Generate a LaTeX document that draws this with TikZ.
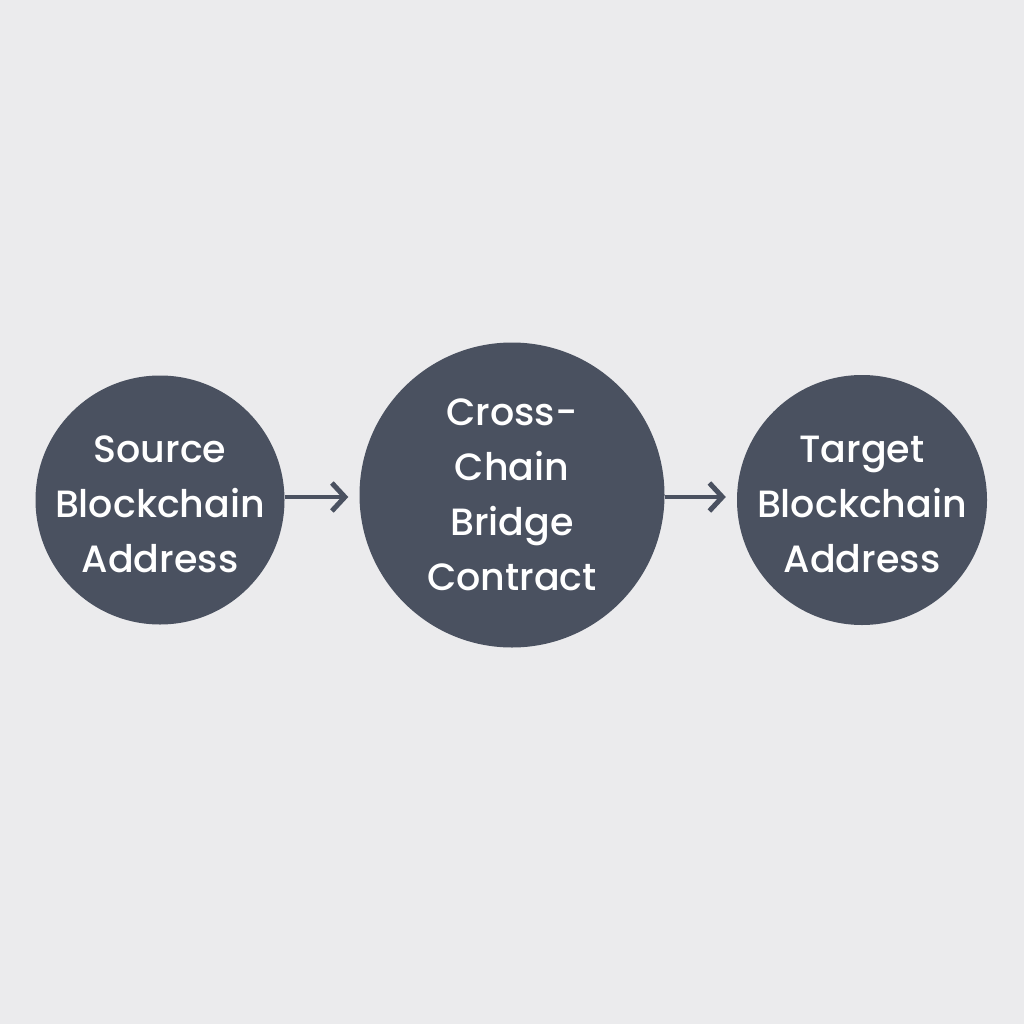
\documentclass[tikz,border=0pt]{standalone}
\usepackage{fontspec}
\setmainfont{Poppins}[UprightFont=* Medium]
\usetikzlibrary{arrows.meta}
\definecolor{bg}{HTML}{EBEBED}
\definecolor{disc}{HTML}{4A5160}
\tikzset{
  disc/.style={circle, fill=disc, inner sep=0pt},
  label/.style={text=white, align=center, font=\fontsize{38}{55}\selectfont},
  flow/.style={draw=disc, line width=4.5pt, -{Straight Barb[length=13pt,width=28pt,line width=5pt]}}
}
\begin{document}
\begin{tikzpicture}[x=1pt,y=-1pt]
\fill[bg] (0,0) rectangle (1024,1024);
\useasboundingbox (0,0) rectangle (1024,1024);
\node[disc, minimum size=249pt] (src) at (160,500) {};
\node[disc, minimum size=305pt] (bridge) at (512,495) {};
\node[disc, minimum size=250pt] (tgt) at (862,500) {};
\node[label] (srctxt) at (160,504) {Source\\Blockchain\\Address};
\node[label] (bridgetxt) at (512,495) {Cross-\\Chain\\Bridge\\Contract};
\node[label] (tgttxt) at (862,504) {Target\\Blockchain\\Address};
\draw[flow, shorten >=11pt] (src.east |- 0,497) -- (bridge.west |- 0,497);
\draw[flow, shorten >=11pt] (bridge.east |- 0,497) -- (tgt.west |- 0,497);
\end{tikzpicture}
\end{document}
